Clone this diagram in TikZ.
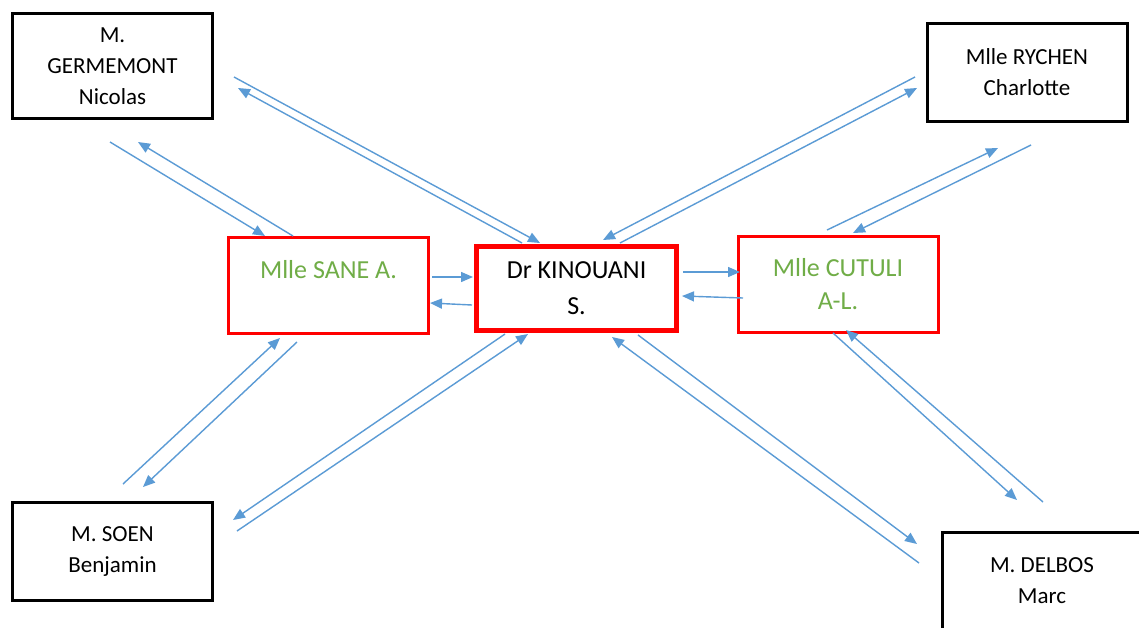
\documentclass[tikz,border=0pt]{standalone}
\usepackage{fontspec}
\setmainfont{Carlito}
\usetikzlibrary{arrows.meta, positioning}
\definecolor{linkblue}{HTML}{5B9BD5}
\definecolor{tutorred}{HTML}{FF0000}
\definecolor{tutorgreen}{HTML}{70AD47}

\begin{document}
\begin{tikzpicture}[x=0.5pt, y=-0.5pt,
    person/.style={draw=black, line width=1.5pt, minimum width=100pt, minimum height=49pt,
      align=center, inner sep=2pt, font=\fontsize{11.5}{15.5}\selectfont},
    tutor/.style={draw=tutorred, line width=1.5pt, minimum width=100pt, minimum height=48pt,
      align=center, inner sep=2pt, text=tutorgreen, font=\fontsize{13}{16.5}\selectfont},
    chief/.style={draw=tutorred, line width=2.5pt, minimum width=100pt, minimum height=42pt,
      align=center, inner sep=2pt, font=\fontsize{13}{18}\selectfont},
    link/.style={draw=linkblue, line width=0.7pt, -{Triangle[length=6pt, width=5pt]}}]
  \path[fill=white, use as bounding box] (0,0) rectangle (1139,627);
  \clip (0,0) rectangle (1139,627);

  % the boxes
  \node[chief] (kinouani) at (576.5,288.5) {Dr KINOUANI\\S.};
  \node[tutor] (sane) at (328.5,285.5) {Mlle SANE A.\\~};
  \node[tutor] (cutuli) at (838,284) {Mlle CUTULI\\A-L.};
  \node[person, minimum height=52.5pt] (germemont) at (112.5,66) {M.\\GERMEMONT\\Nicolas};
  \node[person] (rychen) at (1027,72) {Mlle RYCHEN\\Charlotte};
  \node[person] (soen) at (112.5,551.5) {M. SOEN\\Benjamin};
  \node[person] (delbos) at (1042,581) {M. DELBOS\\Marc};

  % the links, two per pair, one each way
  \foreach \n/\xa/\ya/\xb/\yb in {
      gk1/234/77/540/243, gk2/522/243/238/88,
      gs1/110/142/265/236, gs2/293/236/138/142,
      rk1/915/77/603/240, rk2/620/243/917/88,
      rc1/827/230/998/148, rc2/1031/145/853/233,
      ss1/123/484/280/338, ss2/297/342/143/487,
      sk1/505/334/233/520, sk2/237/531/528/334,
      dc1/833/333/1017/500, dc2/1043/502/846/330,
      dk1/638/335/917/544, dk2/919/563/612/337,
      sak1/432/277/473/277, sak2/472/305/430/303,
      kc1/683/272/740/272, kc2/743/298/682/296}
  {
    \coordinate (\n-s) at (\xa,\ya);
    \coordinate (\n-e) at (\xb,\yb);
    \draw[link] (\n-s) -- (\n-e);
  }
\end{tikzpicture}
\end{document}
